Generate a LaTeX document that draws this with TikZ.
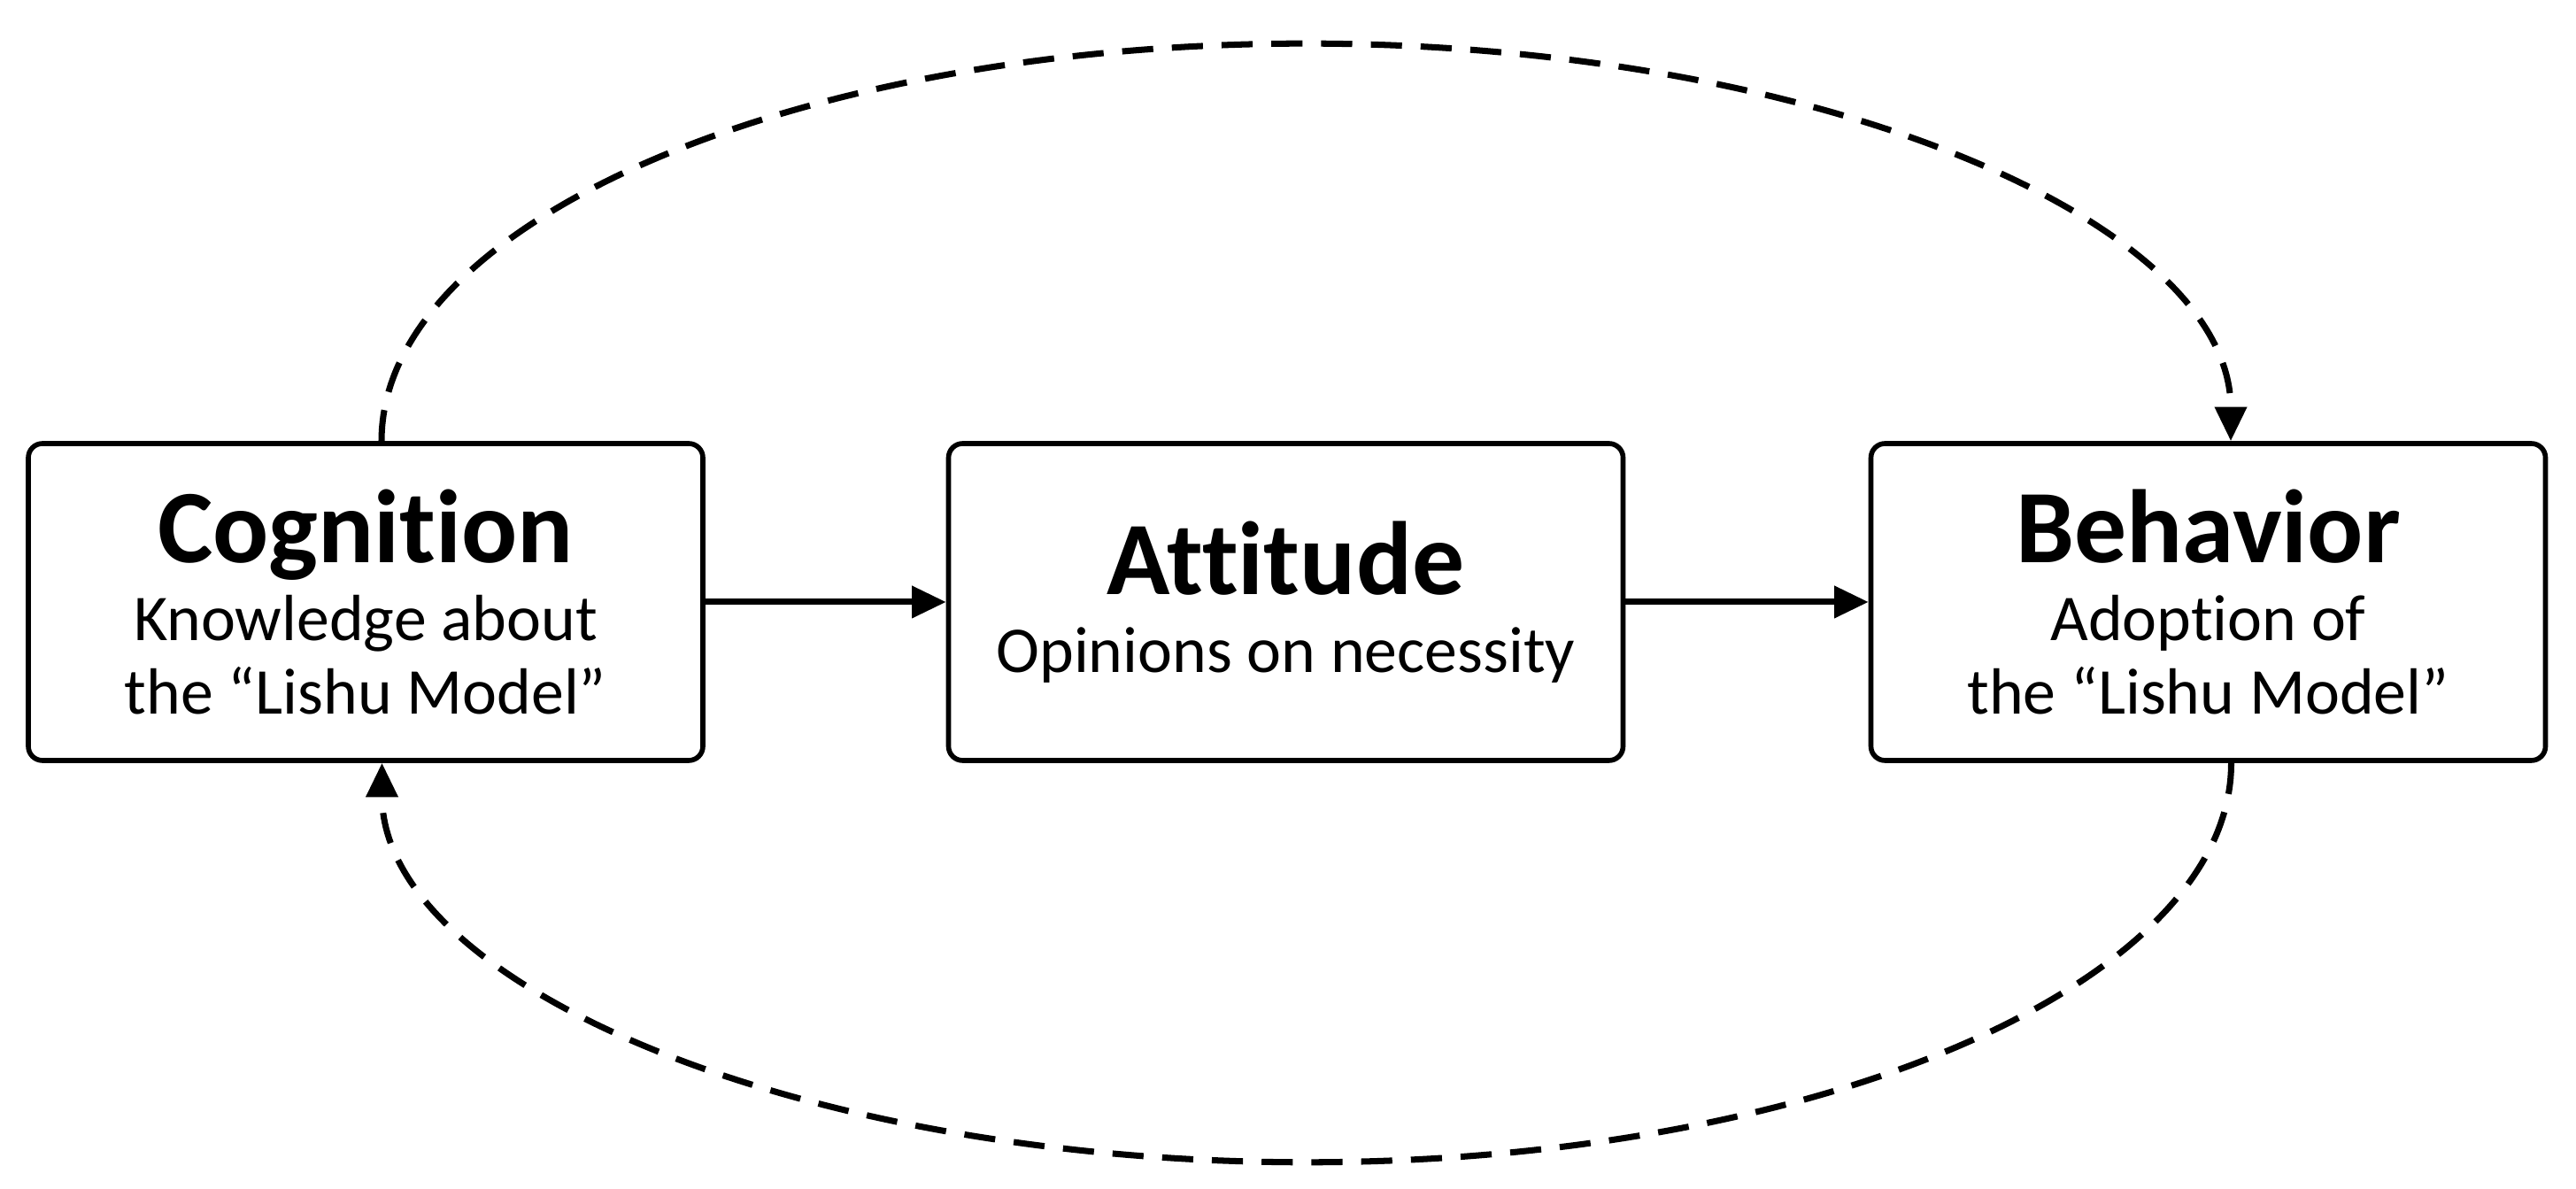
\documentclass[tikz,border=0pt]{standalone}
\usepackage{fontspec}
\setmainfont{Carlito}[Ligatures=NoCommon]
\usetikzlibrary{arrows.meta}

\begin{document}
\begin{tikzpicture}[
    >={Triangle[length=11pt,width=10pt]},
    box/.style={rectangle, rounded corners=1.6mm, draw=black, line width=1.6pt, fill=white,
                minimum width=7.62cm, minimum height=3.58cm, align=center,
                font=\fontsize{21}{23.5}\selectfont},
    loop/.style={->, dash pattern=on 10pt off 6pt, line width=2pt}
]
    \useasboundingbox (0, 0) rectangle (29.1, 13.43);

    \node[box] (c) at (4.13, 6.63)   {{\fontsize{33.5}{36}\selectfont\bfseries Cognition}\\[1.5pt]Knowledge about\\the “Lishu Model”};
    \node[box] (a) at (14.525, 6.63) {{\fontsize{33.5}{36}\selectfont\bfseries Attitude}\\[1.5pt]Opinions on necessity};
    \node[box] (b) at (24.945, 6.63) {{\fontsize{33.5}{36}\selectfont\bfseries Behavior}\\[1.5pt]Adoption of\\the “Lishu Model”};

    \coordinate (ct) at ([xshift=1.8mm]c.north);
    \coordinate (bs) at ([xshift=2.6mm]b.south);

    \draw[->, line width=2pt] (c) -- (a);
    \draw[->, line width=2pt] (a) -- (b);
    \draw[loop] (ct) arc[start angle=180, end angle=0, x radius=10.445, y radius=4.49];
    \draw[loop] (bs) arc[start angle=0, end angle=-180, x radius=10.445, y radius=4.51];
\end{tikzpicture}
\end{document}
